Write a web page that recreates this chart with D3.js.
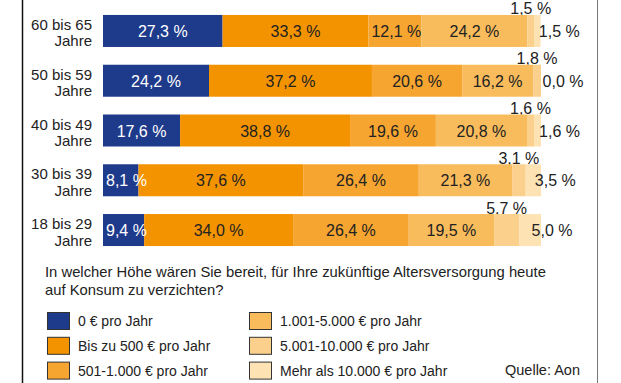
<!DOCTYPE html>
<html>
<head>
<meta charset="utf-8">
<script src="https://cdn.jsdelivr.net/npm/d3@7"></script>
<style>
  body { margin: 0; background: #fff; }
  svg { display: block; font-family: "Liberation Sans", Arial, Helvetica, sans-serif; }
</style>
</head>
<body>
<div id="chart"></div>
<script>
// age groups, two label lines each
const categories = ['60 bis 65', '50 bis 59', '40 bis 49', '30 bis 39', '18 bis 29'];
const categorySuffix = 'Jahre';

// share of respondents (%) per answer, one value per age group
const zeroEuro = [27.3, 24.2, 17.6, 8.1, 9.4];
const upTo500 = [33.3, 37.2, 38.8, 37.6, 34.0];
const from501 = [12.1, 20.6, 19.6, 26.4, 26.4];
const from1001 = [24.2, 16.2, 20.8, 21.3, 19.5];
const from5001 = [1.5, 1.8, 1.6, 3.1, 5.7];
const over10000 = [1.5, 0.0, 1.6, 3.5, 5.0];

const seriesNames = [
  '0 € pro Jahr',
  'Bis zu 500 € pro Jahr',
  '501-1.000 € pro Jahr',
  '1.001-5.000 € pro Jahr',
  '5.001-10.000 € pro Jahr',
  'Mehr als 10.000 € pro Jahr'
];
const seriesValues = [zeroEuro, upTo500, from501, from1001, from5001, over10000];
const colors = ['#1e3a8b', '#f39300', '#f6a530', '#f9bc5c', '#fbd08c', '#fde2b4'];

const question = [
  'In welcher Höhe wären Sie bereit, für Ihre zukünftige Altersversorgung heute',
  'auf Konsum zu verzichten?'
];
const source = 'Quelle: Aon';

const width = 621;
const height = 383;

const svg = d3.select('#chart')
  .append('svg')
  .attr('width', width)
  .attr('height', height);

// frame lines
svg.append('line')
  .attr('x1', 22.5).attr('x2', 22.5).attr('y1', 0).attr('y2', height)
  .attr('stroke', '#111').attr('stroke-width', 1.5);
svg.append('line')
  .attr('x1', 597.5).attr('x2', 597.5).attr('y1', 0).attr('y2', height)
  .attr('stroke', '#777').attr('stroke-width', 1);

const rows = categories.map((c, i) => {
  const row = { category: c };
  seriesNames.forEach((s, j) => { row[s] = seriesValues[j][i]; });
  return row;
});

const stacked = d3.stack().keys(seriesNames)(rows);

const x = d3.scaleLinear().domain([0, 100]).range([103, 541]);
const y = d3.scaleBand()
  .domain(categories)
  .range([6, 255])
  .paddingInner(0.357)
  .paddingOuter(0.18);

const fmt = v => v.toFixed(1).replace('.', ',') + ' %';

// category labels
const catG = svg.append('g')
  .attr('font-size', 15)
  .attr('fill', '#222')
  .attr('text-anchor', 'end');
categories.forEach(c => {
  const cy = y(c) + y.bandwidth() / 2;
  catG.append('text').attr('x', 92).attr('y', cy - 1).text(c);
  catG.append('text').attr('x', 92).attr('y', cy + 15.5).text(categorySuffix);
});

// labels above the bars for the 5th series (drawn first so bars sit over them)
const topLayer = stacked[4];
svg.append('g')
  .attr('font-size', 16)
  .attr('fill', '#222')
  .attr('text-anchor', 'middle')
  .selectAll('text')
  .data(topLayer)
  .join('text')
  .attr('x', d => (x(d[0]) + x(d[1])) / 2)
  .attr('y', d => y(d.data.category) - 0.5)
  .text(d => fmt(d[1] - d[0]));

// bars
const layers = svg.append('g')
  .selectAll('g')
  .data(stacked)
  .join('g')
  .attr('fill', (d, i) => colors[i]);

layers.selectAll('rect')
  .data(d => d)
  .join('rect')
  .attr('x', d => x(d[0]))
  .attr('y', d => y(d.data.category))
  .attr('width', d => x(d[1]) - x(d[0]))
  .attr('height', y.bandwidth());

// value labels inside bars (first four series)
const labelG = svg.append('g').attr('font-size', 16);
stacked.slice(0, 4).forEach((layer, i) => {
  layer.forEach(d => {
    const x0 = x(d[0]);
    const x1 = x(d[1]);
    const t = labelG.append('text')
      .attr('y', y(d.data.category) + y.bandwidth() / 2 + 6)
      .attr('fill', i === 0 ? '#fff' : '#222')
      .text(fmt(d[1] - d[0]));
    const w = t.node().getComputedTextLength();
    if (x1 - x0 < w + 8) {
      t.attr('x', x0 + 3).attr('text-anchor', 'start');
    } else {
      t.attr('x', (x0 + x1) / 2).attr('text-anchor', 'middle');
    }
  });
});

// labels right of the bars for the last series
svg.append('g')
  .attr('font-size', 16)
  .attr('fill', '#222')
  .attr('text-anchor', 'middle')
  .selectAll('text')
  .data(stacked[5])
  .join('text')
  .attr('x', d => (x(d[0]) + x(d[1])) / 2 + 22)
  .attr('y', d => y(d.data.category) + y.bandwidth() / 2 + 6)
  .text(d => fmt(d[1] - d[0]));

// question text
svg.append('g')
  .attr('font-size', 14.8)
  .attr('fill', '#222')
  .selectAll('text')
  .data(question)
  .join('text')
  .attr('x', 45)
  .attr('y', (d, i) => 277 + i * 18)
  .text(d => d);

// legend
const legend = svg.append('g').attr('font-size', 14).attr('fill', '#222');
seriesNames.forEach((name, i) => {
  const col = Math.floor(i / 3);
  const r = i % 3;
  const lx = col === 0 ? 47 : 249;
  const ly = 312 + r * 24.8;
  legend.append('rect')
    .attr('x', lx + 0.5).attr('y', ly + 0.5)
    .attr('width', 22).attr('height', 17)
    .attr('fill', colors[i])
    .attr('stroke', '#333').attr('stroke-width', 1);
  legend.append('text')
    .attr('x', lx + 31)
    .attr('y', ly + 14)
    .text(name);
});

svg.append('text')
  .attr('x', 580)
  .attr('y', 375)
  .attr('text-anchor', 'end')
  .attr('font-size', 14.5)
  .attr('fill', '#222')
  .text(source);
</script>
</body>
</html>
